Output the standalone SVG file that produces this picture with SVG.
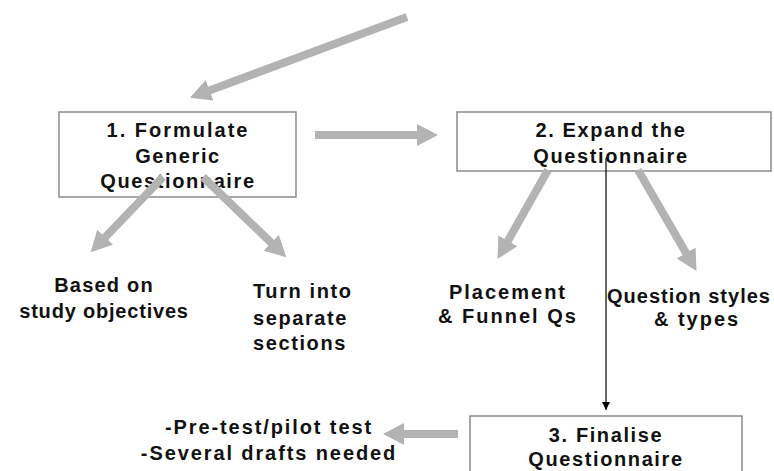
<svg xmlns="http://www.w3.org/2000/svg" width="774" height="471" viewBox="0 0 774 471">
<defs>
<marker id="ah" markerUnits="userSpaceOnUse" markerWidth="22" markerHeight="22" refX="1" refY="11" orient="auto">
<path d="M0,0 L21,11 L0,22 z" fill="#b3b3b3"/>
</marker>
<marker id="bh" markerUnits="userSpaceOnUse" markerWidth="8" markerHeight="8" refX="8" refY="4" orient="auto">
<path d="M0,0 L8,4 L0,8 z" fill="#000"/>
</marker>
<style>
.box{fill:#fff;stroke:#8a8a8a;stroke-width:1.5}
.t{font-family:"Liberation Sans",Arial,sans-serif;font-weight:bold;font-size:20px;fill:#111;letter-spacing:1.6px}
.c{text-anchor:middle}
.g{stroke:#b3b3b3;stroke-width:8;fill:none;marker-end:url(#ah)}
</style>
</defs>
<rect width="774" height="471" fill="#fff"/>
<g id="node1">
<rect class="box" x="59" y="112" width="237" height="85"/>
<text class="t c" x="178" y="137" style="letter-spacing:2px">1. Formulate</text>
<text class="t c" x="178" y="163">Generic</text>
<text class="t c" x="178" y="188">Questionnaire</text>
</g>
<g id="node2">
<rect class="box" x="457" y="112" width="314" height="59"/>
<text class="t c" x="611" y="137">2. Expand the</text>
<text class="t c" x="611" y="163">Questionnaire</text>
</g>
<g id="node3">
<rect class="box" x="470" y="416" width="272" height="70"/>
<text class="t c" x="606" y="442">3. Finalise</text>
<text class="t c" x="606" y="466">Questionnaire</text>
</g>
<g id="label-based">
<text class="t c" x="104" y="292" style="letter-spacing:1.2px">Based on</text>
<text class="t c" x="104" y="318" style="letter-spacing:0.8px">study objectives</text>
</g>
<g id="label-turn">
<text class="t" x="253" y="298">Turn into</text>
<text class="t" x="253" y="325">separate</text>
<text class="t" x="253" y="350">sections</text>
</g>
<g id="label-placement">
<text class="t c" x="508" y="299" style="letter-spacing:2px">Placement</text>
<text class="t c" x="508" y="323" style="letter-spacing:2px">&amp; Funnel Qs</text>
</g>
<g id="label-styles">
<text class="t" x="607" y="303" style="letter-spacing:1px">Question styles</text>
<text class="t c" x="697" y="326" style="letter-spacing:2px">&amp; types</text>
</g>
<g id="label-pretest">
<text class="t c" x="269" y="434" style="letter-spacing:1.9px">-Pre-test/pilot test</text>
<text class="t c" x="269" y="460" style="letter-spacing:1.9px">-Several drafts needed</text>
</g>
<g id="connectors">
<line class="g" x1="407" y1="17" x2="208.7" y2="90.7"/>
<line class="g" x1="315" y1="135" x2="418" y2="135"/>
<line class="g" x1="163" y1="177" x2="104.5" y2="237.9"/>
<line class="g" x1="203" y1="177" x2="271.9" y2="243.4"/>
<line class="g" x1="548" y1="170" x2="507.4" y2="241.7"/>
<line class="g" x1="638" y1="170" x2="686.5" y2="253.8"/>
<line class="g" x1="458" y1="434" x2="403" y2="434"/>
<line x1="606" y1="158" x2="606" y2="410" stroke="#000" stroke-width="1.2" marker-end="url(#bh)"/>
</g>
</svg>
